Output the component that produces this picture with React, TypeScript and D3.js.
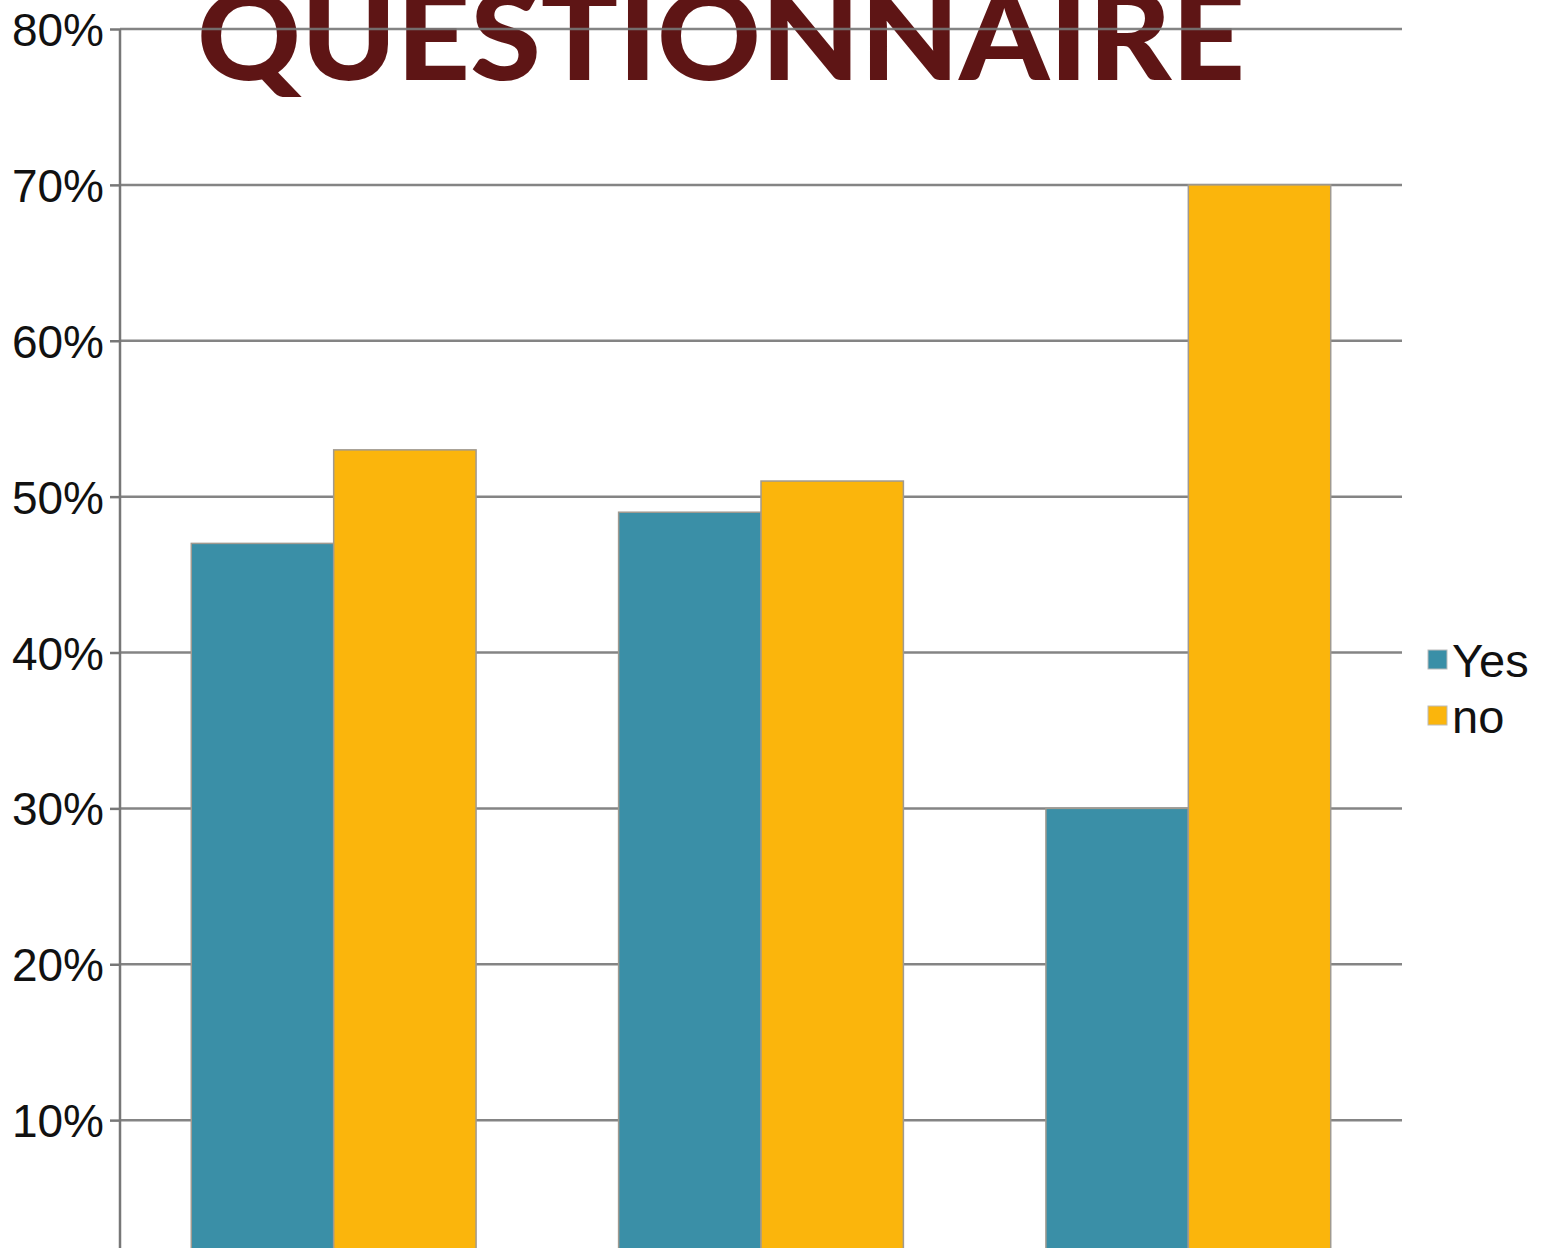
import React, { useEffect, useRef } from 'react';
import * as d3 from 'd3';

const categories = ['A', 'B', 'C'];
const seriesNames = ['Yes', 'no'];
const yesValues = [47, 49, 30];
const noValues = [53, 51, 70];
const yTicks = [10, 20, 30, 40, 50, 60, 70, 80];
const colors = ['#3a8fa7', '#fbb50c'];

const App: React.FC = () => {
  const svgRef = useRef<SVGSVGElement>(null);

  useEffect(() => {
    if (!svgRef.current) return;
    const width = 1548;
    const height = 1248;
    const margin = { left: 120, right: 146, top: 29 };

    const svg = d3.select(svgRef.current);
    svg.selectAll('*').remove();

    const x = d3.scaleBand<string>()
      .domain(categories)
      .range([margin.left, width - margin.right])
      .paddingInner(0.3335)
      .paddingOuter(0.1668);

    const x1 = d3.scaleBand<string>()
      .domain(seriesNames)
      .range([0, x.bandwidth()]);

    const y = d3.scaleLinear()
      .domain([0, 80])
      .range([1276, margin.top]);

    // Title (sits under the gridlines)
    svg.append('text')
      .attr('x', 197)
      .attr('y', 80)
      .attr('textLength', 1048)
      .attr('lengthAdjust', 'spacingAndGlyphs')
      .attr('font-family', 'Lato, "Open Sans", sans-serif')
      .attr('font-weight', 900)
      .attr('font-size', 122)
      .attr('fill', '#5e1515')
      .text('QUESTIONNAIRE');

    // Ticks + labels
    const yAxis = svg.append('g')
      .attr('transform', `translate(${margin.left},0)`)
      .call(d3.axisLeft(y)
        .tickValues(yTicks)
        .tickSize(10)
        .tickPadding(6)
        .tickFormat(d => `${d}%`));
    yAxis.select('.domain').remove();
    yAxis.selectAll('line').attr('stroke', '#777').attr('stroke-width', 2.5);
    yAxis.selectAll('text')
      .attr('font-family', '"Liberation Sans", Arial, sans-serif')
      .attr('font-size', 46)
      .attr('fill', '#111')
      .attr('dy', '0.36em');

    // Grid
    svg.append('g')
      .selectAll('line')
      .data(yTicks)
      .join('line')
      .attr('x1', margin.left)
      .attr('x2', width - margin.right)
      .attr('y1', d => y(d))
      .attr('y2', d => y(d))
      .attr('stroke', '#777')
      .attr('stroke-opacity', 0.9)
      .attr('stroke-width', 2.5);

    // Bars
    const rows = categories.map((c, i) => ({ c, vals: [yesValues[i], noValues[i]] }));
    svg.append('g')
      .selectAll('g')
      .data(rows)
      .join('g')
      .attr('transform', d => `translate(${x(d.c)},0)`)
      .selectAll('rect')
      .data(d => d.vals.map((v, j) => ({ key: seriesNames[j], v, j })))
      .join('rect')
      .attr('x', d => x1(d.key)!)
      .attr('width', x1.bandwidth())
      .attr('y', d => y(d.v))
      .attr('height', d => y(0) - y(d.v))
      .attr('fill', d => colors[d.j])
      .attr('stroke', '#a09a90')
      .attr('stroke-width', 1.5);

    // Axis line
    svg.append('line')
      .attr('x1', margin.left)
      .attr('x2', margin.left)
      .attr('y1', y(80))
      .attr('y2', height)
      .attr('stroke', '#777')
      .attr('stroke-width', 2.5);

    // Legend
    const legend = svg.append('g').attr('transform', 'translate(1428,650)');
    seriesNames.forEach((name, i) => {
      const g = legend.append('g').attr('transform', `translate(0,${i * 56})`);
      g.append('rect')
        .attr('width', 19)
        .attr('height', 19)
        .attr('fill', colors[i])
        .attr('stroke', '#bbb')
        .attr('stroke-width', 1);
      g.append('text')
        .attr('x', 24)
        .attr('y', 10)
        .attr('dy', '0.36em')
        .attr('font-family', '"Liberation Sans", Arial, sans-serif')
        .attr('font-size', 47)
        .attr('fill', '#111')
        .text(name);
    });
  }, []);

  return (
    <svg
      ref={svgRef}
      width={1548}
      height={1248}
      style={{ position: 'absolute', left: 0, top: 0, background: '#fff' }}
    />
  );
};

export default App;
